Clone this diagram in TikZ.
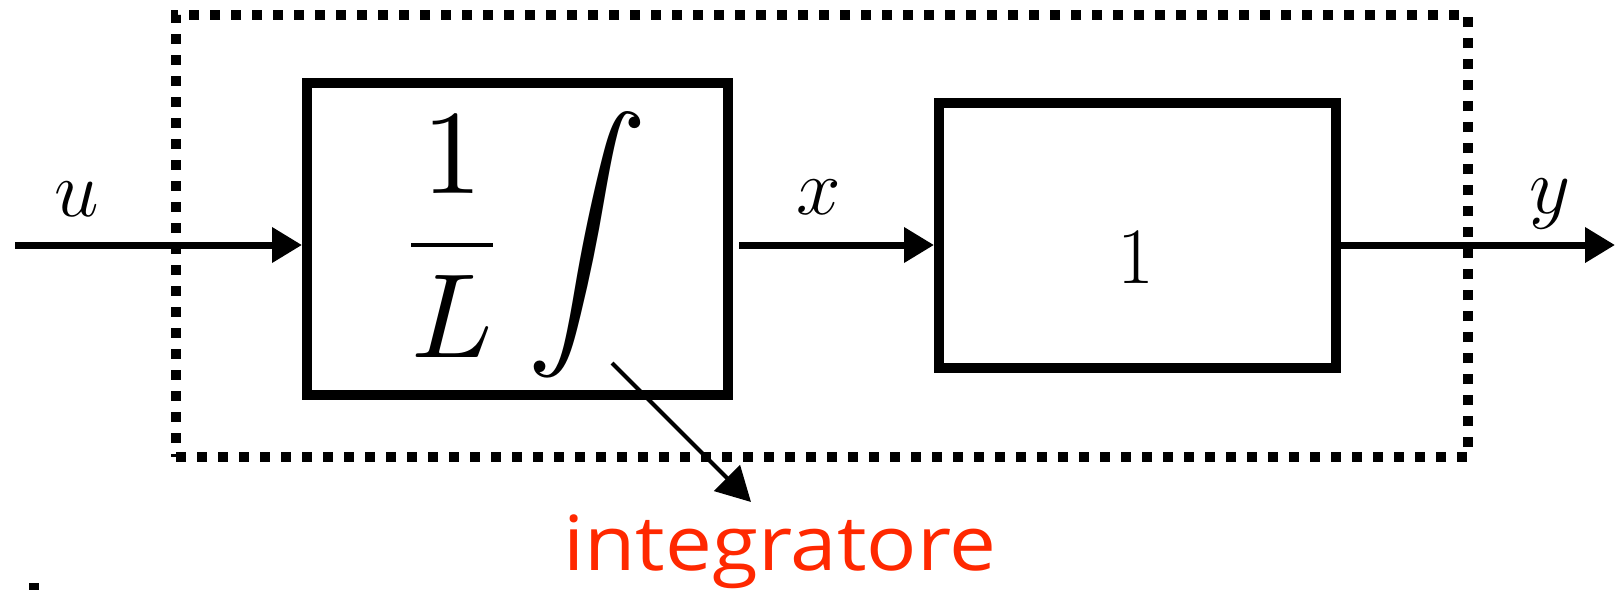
\RequirePackage{fix-cm}
\documentclass[tikz,border=0pt]{standalone}
\usepackage{fontspec}
\newfontfamily\labelfont[FakeStretch=1.1]{Open Sans}
\usetikzlibrary{arrows.meta}
\definecolor{labelred}{RGB}{255,40,0}
\tikzset{
  block/.style={draw, line width=10pt, rectangle, inner sep=0pt},
  frame/.style={draw, line width=10pt, dash pattern=on 10pt off 11pt, rectangle, inner sep=0pt},
  signal/.style={line width=7pt, -{Triangle[length=30pt,width=34pt]}},
  pointer/.style={line width=4pt, -{Triangle[length=34pt,width=36pt]}},
  sig/.style={font=\fontsize{80}{96}\selectfont, anchor=base, inner sep=0pt},
}
\begin{document}
\begin{tikzpicture}[x=1pt,y=-1pt]
\useasboundingbox (0,0) rectangle (1615,590);
\node[frame, minimum width=1292pt, minimum height=442pt] (frame) at (822,236) {};
\node[block, minimum width=421pt, minimum height=312pt] (b1) at (517.5,239) {};
\node[block, minimum width=397pt, minimum height=265pt] (b2) at (1137.5,235.5) {};
\node[inner sep=0pt, anchor=base] (f) at (522,275) {\scalebox{12}{$\displaystyle\frac{1}{L}\int$}};
\node[sig] (one) at (1136,283) {$1$};
\coordinate (in) at (15,245);
\coordinate (out) at (1615,245);
\draw[signal] (in) -- (b1.west |- in);
\draw[signal, shorten <=6pt] (b1.east |- in) -- (b2.west |- in);
\draw[signal] (b2.east |- out) -- (out);
\node[sig] (u) at (77,216) {$u$};
\node[sig] (x) at (819,214) {$x$};
\node[sig] (y) at (1550,213) {$y$};
\node[anchor=base, inner sep=0pt, text=labelred, font=\labelfont\fontsize{76}{90}\selectfont] (lab) at (780,570) {integratore};
\coordinate (ps) at (612,363);
\coordinate (pe) at (751,502);
\draw[pointer] (ps) -- (pe);
\fill (29,583) rectangle (39,590);
\end{tikzpicture}
\end{document}
